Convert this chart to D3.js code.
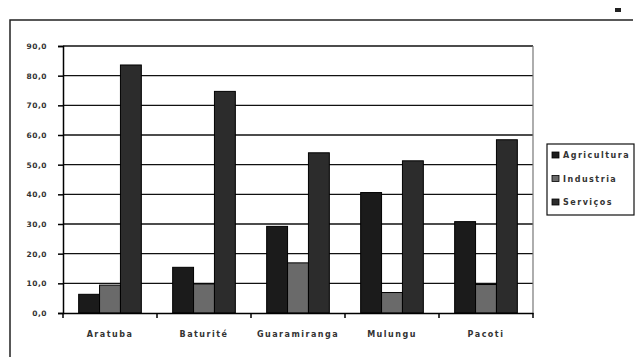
<!DOCTYPE html>
<html><head><meta charset="utf-8">
<script src="https://cdn.jsdelivr.net/npm/d3@7"></script>
<style>body{margin:0;background:#fff}svg{display:block}text{font-family:"DejaVu Sans",sans-serif;font-weight:bold}</style>
</head><body><svg id="c" width="635" height="357"></svg>
<script>
const categories = ["Aratuba","Baturité","Guaramiranga","Mulungu","Pacoti"];
const seriesNames = ["Agricultura","Industria","Serviços"];
const agricultura = [6.3, 15.4, 29.2, 40.6, 30.8];
const industria = [9.4, 9.8, 16.9, 6.9, 9.6];
const servicos = [83.6, 74.7, 54.0, 51.3, 58.4];
const yTicks = [0,10,20,30,40,50,60,70,80,90];
const colors = ["#1b1b1b","#6a6a6a","#2c2c2c"];

const series = [agricultura, industria, servicos];
const svg = d3.select("#c");
const L = 63, R = 533, T = 46, B = 313;

// outer frame
svg.append("path").attr("d","M10,357 L10,20 L633,20").attr("fill","none").attr("stroke","#222").attr("stroke-width",1.5);
svg.append("rect").attr("x",615).attr("y",8).attr("width",6).attr("height",4).attr("fill","#222");

const x = d3.scaleBand().domain(categories).range([L,R]);
const barW = x.bandwidth()/4.5;
const xs = d3.scaleBand().domain([0,1,2]).range([0, barW*3]);
const y = d3.scaleLinear().domain([0,90]).range([B,T]);

// gridlines
svg.append("g").selectAll("line").data(yTicks.filter(d=>d>0)).join("line")
  .attr("x1",L).attr("x2",R).attr("y1",d=>y(d)).attr("y2",d=>y(d))
  .attr("stroke","#111").attr("stroke-width",1.3);
// right plot border
svg.append("line").attr("x1",R).attr("x2",R).attr("y1",T).attr("y2",B).attr("stroke","#777").attr("stroke-width",1.2);

// bars
const g = svg.append("g");
categories.forEach((c,i)=>{
  series.forEach((s,j)=>{
    g.append("rect")
      .attr("x", x(c) + barW*0.75 + xs(j))
      .attr("y", y(s[i]))
      .attr("width", barW)
      .attr("height", y(0)-y(s[i]))
      .attr("fill", colors[j]).attr("stroke","#000").attr("stroke-width",1);
  });
});

// y axis
const ya = svg.append("g").attr("transform",`translate(${L},0)`)
  .call(d3.axisLeft(y).tickValues(yTicks).tickSize(5).tickFormat(d=>d3.format(".1f")(d).replace(".",",")));
ya.select(".domain").attr("stroke","#000").attr("stroke-width",1.5);
ya.selectAll(".tick line").attr("stroke","#000").attr("stroke-width",1.5);
ya.selectAll("text").attr("font-size",7.5).attr("fill","#333").attr("letter-spacing",0.5).attr("dx",-8);

// x axis
const xa = svg.append("g").attr("transform",`translate(0,${B})`)
  .call(d3.axisBottom(x).tickSize(0).tickPadding(18));
xa.select(".domain").attr("stroke","#000").attr("stroke-width",1.5);
xa.selectAll("text").attr("font-size",8).attr("fill","#333").attr("letter-spacing",1.5);
svg.append("g").selectAll("line").data(categories.concat(["_end"])).join("line")
  .attr("x1",(d,i)=>L + i*x.step()).attr("x2",(d,i)=>L + i*x.step())
  .attr("y1",B).attr("y2",B+5).attr("stroke","#000").attr("stroke-width",1.5);

// legend
const lg = svg.append("g");
lg.append("rect").attr("x",547).attr("y",144).attr("width",87).attr("height",71)
  .attr("fill","#fff").attr("stroke","#111").attr("stroke-width",1.2);
seriesNames.forEach((n,j)=>{
  const yy = 155 + j*23.5;
  lg.append("rect").attr("x",552).attr("y",yy-3).attr("width",7).attr("height",6)
    .attr("fill",colors[j]).attr("stroke","#000").attr("stroke-width",0.8);
  lg.append("text").attr("x",563).attr("y",yy+3).attr("font-size",8).attr("fill","#333").attr("letter-spacing",1.5).text(n);
});
</script></body></html>
